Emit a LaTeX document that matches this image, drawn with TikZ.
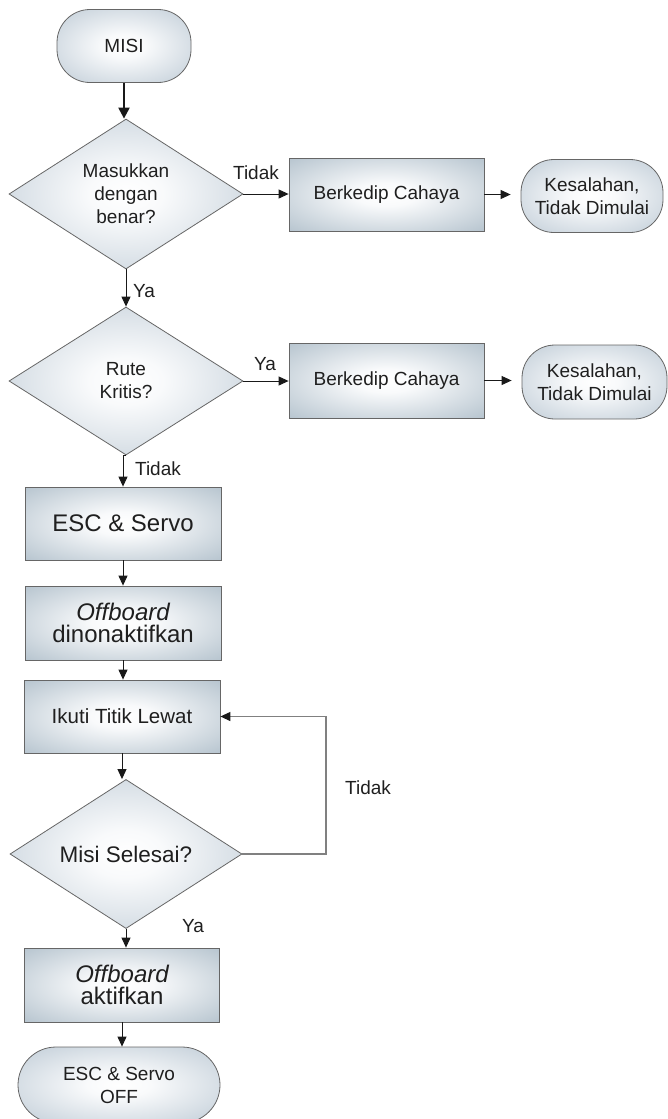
\documentclass[tikz,border=0pt]{standalone}
\usepackage{fontspec}
\setmainfont{Liberation Sans}
\usetikzlibrary{shapes.geometric,arrows.meta}

% soft radial fills: white centre fading to blue-grey towards the border
\pgfdeclareradialshading{rectglow}{\pgfpoint{0bp}{0bp}}{%
  rgb(0bp)=(1,1,1); rgb(8bp)=(0.975,0.98,0.985);
  rgb(50bp)=(0.58,0.66,0.72)}
\pgfdeclareradialshading{softglow}{\pgfpoint{0bp}{0bp}}{%
  rgb(0bp)=(1,1,1); rgb(8bp)=(0.975,0.98,0.985);
  rgb(50bp)=(0.64,0.71,0.77)}

\begin{document}
\begin{tikzpicture}[x=1pt,y=-1pt,
  txt/.style={text=black!88, font=\fontsize{19}{23}\selectfont},
  flowbox/.style={rectangle, draw=black!60, line width=0.8pt, shading=rectglow,
    minimum width=196pt, minimum height=73pt, inner sep=0pt, align=center, txt},
  term/.style={rectangle, rounded corners=33pt, draw=black!60, line width=0.8pt,
    shading=softglow, minimum height=73pt, inner sep=0pt, align=center, txt},
  decision/.style={diamond, draw=black!60, line width=0.8pt, shading=softglow,
    inner sep=0pt, align=center, txt},
  conn/.style={draw=black!90, line width=1pt, -{Triangle[length=10pt,width=9pt]}},
  lbl/.style={txt, inner sep=0pt}
]
\useasboundingbox (0,0) rectangle (667,1119);

% main column
\node[term, minimum width=134pt] (misi) at (124,46) {MISI};
\node[decision, minimum width=234pt, minimum height=150pt] (d1) at (126,194)
  {Masukkan\\dengan\\benar?};
\node[decision, minimum width=234pt, minimum height=148pt] (d2) at (126,381)
  {Rute\\Kritis?};
\node[flowbox] (esc) at (123,523.5) {\fontsize{24}{28}\selectfont ESC \& Servo};
\node[flowbox, minimum height=74pt] (off1) at (123,623)
  {\fontsize{24}{28}\selectfont\itshape Offboard\\[-1pt]
   \fontsize{24}{28}\selectfont dinonaktifkan};
\node[flowbox] (ikuti) at (122,716.5) {\fontsize{20.5}{24}\selectfont Ikuti Titik Lewat};
\node[decision, minimum width=232pt, minimum height=148pt] (d3) at (126,854)
  {\fontsize{22.5}{26}\selectfont Misi Selesai?};
\node[flowbox, minimum width=195pt, minimum height=74pt] (off2) at (122,985)
  {\fontsize{24}{28}\selectfont\itshape Offboard\\[-1pt]
   \fontsize{24}{28}\selectfont aktifkan};
\node[term, minimum width=202pt, minimum height=76pt, rounded corners=38pt] (stop) at (119,1085)
  {ESC \& Servo\\OFF};

% error branches
\node[flowbox, minimum width=195pt] (b1) at (386.5,194.5) {Berkedip Cahaya};
\node[term, minimum width=142pt] (t1) at (592,196) {Kesalahan,\\Tidak Dimulai};
\node[flowbox, minimum width=195pt, minimum height=75pt] (b2) at (386.5,380.5) {Berkedip Cahaya};
\node[term, minimum width=145pt, minimum height=74pt] (t2) at (594.5,382) {Kesalahan,\\Tidak Dimulai};

% branch labels
\node[lbl] (l1) at (256,173) {Tidak};
\node[lbl] (l2) at (144,291) {Ya};
\node[lbl] (l3) at (265,364) {Ya};
\node[lbl] (l4) at (158,469) {Tidak};
\node[lbl] (l5) at (368,788) {Tidak};
\node[lbl] (l6) at (193,926) {Ya};

% connectors
\draw[draw=black!90, line width=2.2pt, -{Triangle[length=11pt,width=11pt]}]
  (misi.south) -- (misi.south |- d1.north);
\draw[conn] (d1.east) -- (d1.east -| b1.west);
\draw[conn, shorten >=10pt] (b1.east) -- (b1.east -| t1.west);
\draw[conn] (d1.south) -- (d1.south |- d2.north);
\draw[conn] (d2.east) -- (d2.east -| b2.west);
\draw[conn, shorten >=10pt] (b2.east) -- (b2.east -| t2.west);
\draw[conn] (d2.south) -- (d2.south -| esc.north) -- (esc.north);
\draw[conn] (esc.south) -- (off1.north);
\draw[conn] (off1.south) -- (off1.south |- ikuti.north);
\draw[conn] (ikuti.south) -- (ikuti.south |- d3.north);
\draw[conn] (d3.south) -- (d3.south |- off2.north);
\draw[conn] (off2.south) -- (off2.south |- stop.north);

% loop back while the mission is not finished
\coordinate (loopc) at (326,787);
\draw[draw=black!50, line width=1.2pt, -{Triangle[length=10pt,width=9pt,color=black!90]}]
  (d3.east) -| (loopc) |- (ikuti.east);
\end{tikzpicture}
\end{document}
